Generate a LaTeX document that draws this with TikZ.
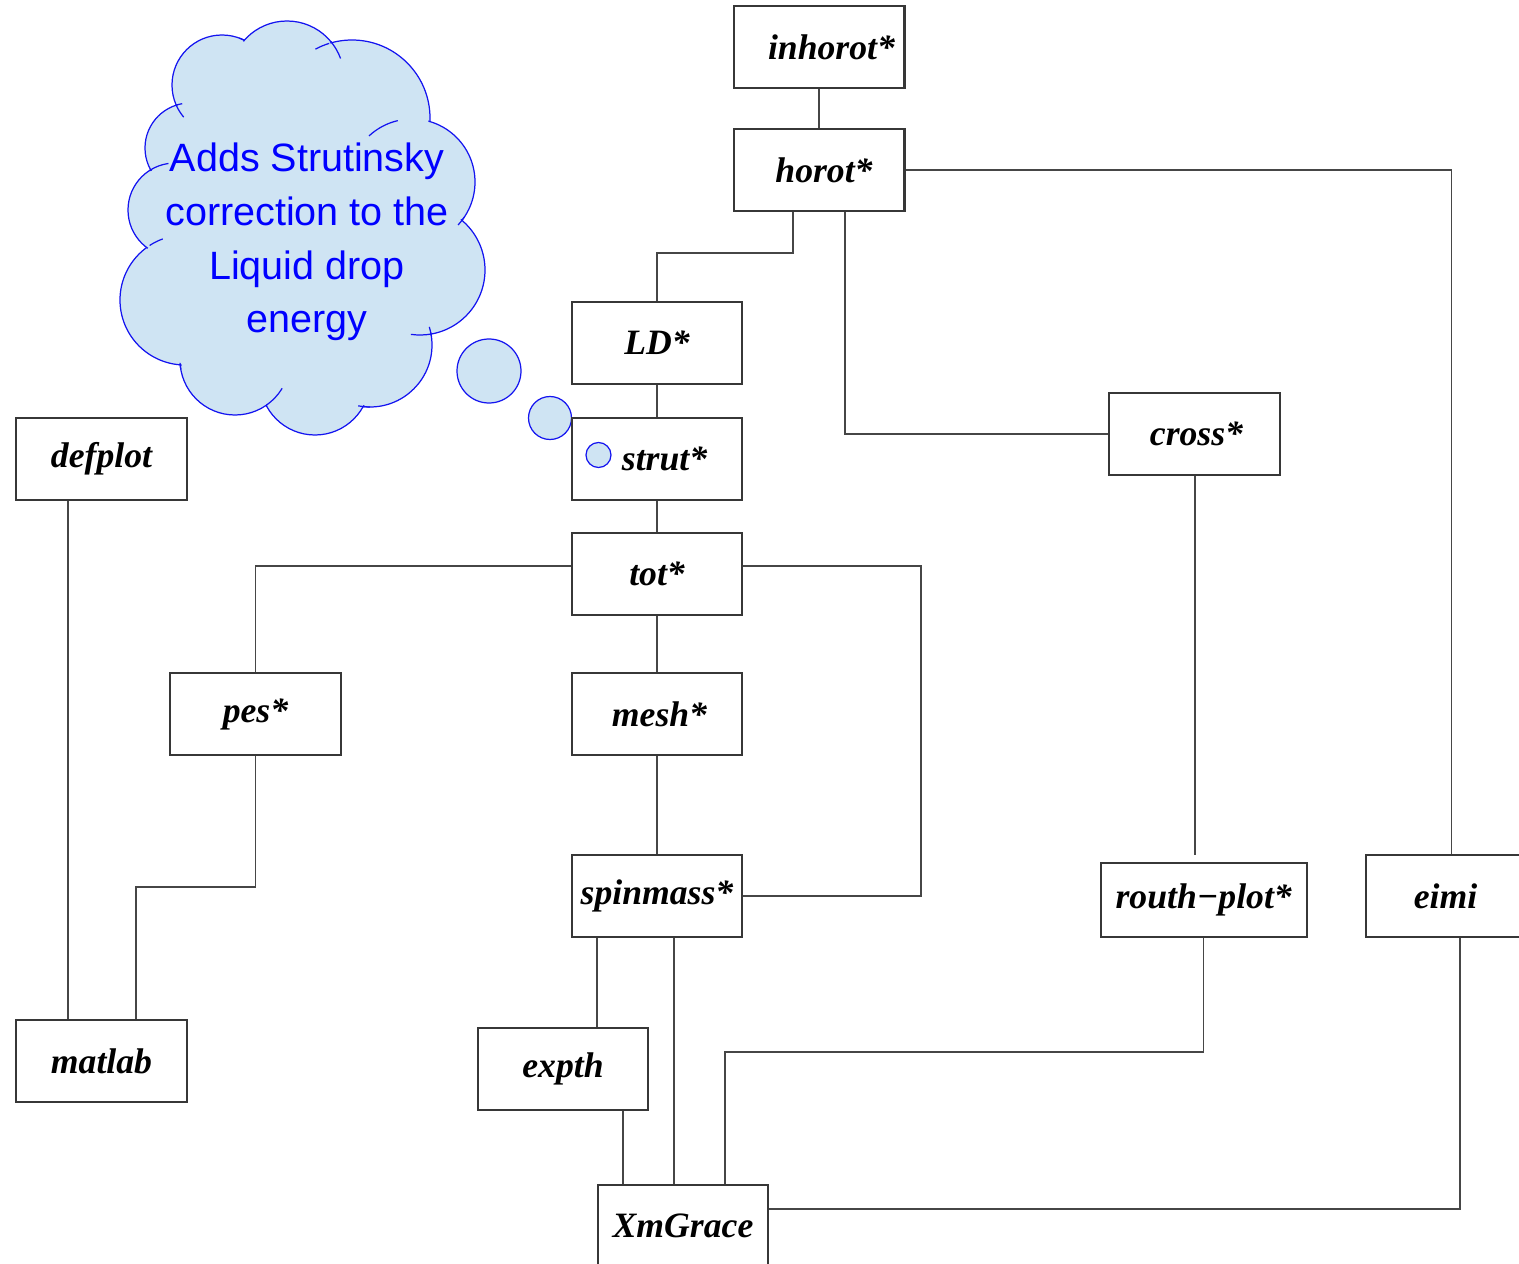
\documentclass[tikz,border=0pt]{standalone}
\usepackage{fontspec}
\setmainfont{Liberation Serif}
\newfontfamily\cloudfont{Liberation Sans}
\definecolor{cloudfill}{RGB}{207,228,243}
\definecolor{cloudline}{RGB}{20,20,240}
\definecolor{boxline}{RGB}{55,55,55}
\definecolor{wire}{RGB}{70,70,70}
\begin{document}
\begin{tikzpicture}[x=0.02cm,y=-0.02cm,
  box/.style={draw=boxline,line width=1.15pt,fill=white,minimum width=3.42cm,minimum height=1.64cm,inner sep=0pt,
    font=\fontsize{20.3}{24}\selectfont\bfseries\itshape},
  wirestyle/.style={draw=wire,line width=0.85pt},
  puff/.style={fill=cloudfill,draw=cloudline,line width=0.7pt},
  puffin/.style={fill=cloudfill},
  tail/.style={draw=cloudline,line width=0.7pt}]
\useasboundingbox (0,0) rectangle (1519,1264);
\clip (0,0) rectangle (1519,1264);

% cloud
\foreach \cx/\cy/\r in {222/85/50, 287/78/57, 352/118/78, 412/182/63, 420/270/65, 370/345/62, 315/380/55, 235/360/55, 185/300/65, 175/210/47, 190/148/45}
  {\path[puff] (\cx,\cy) circle[radius=\r];}
\foreach \cx/\cy/\r in {222/85/50, 287/78/57, 352/118/78, 412/182/63, 420/270/65, 370/345/62, 315/380/55, 235/360/55, 185/300/65, 175/210/47, 190/148/45}
  {\path[puffin] (\cx,\cy) circle[radius=\r-1.5];}
\path[puffin] (222,85) -- (287,78) -- (352,118) -- (412,182) -- (420,270) -- (370,345) -- (315,380) -- (235,360) -- (185,300) -- (175,210) -- (190,148) -- cycle;
% short inner ends of the puffs
\foreach \cx/\cy/\r/\aa/\ab in {287/78/57/-40/-20, 222/85/50/140/157, 412/182/63/-133/-103, 420/270/65/80/98,
   370/345/62/-17/-8, 370/345/62/90/101, 235/360/55/31/55, 235/360/55/170/177, 185/300/65/-123/-110,
   175/210/47/-123/-98, 190/148/45/-108/-100, 352/118/78/-118/-107, 412/182/63/34/43, 222/85/50/-70/-63}
  {\draw[tail] (\cx,\cy) ++(\aa:\r) arc[start angle=\aa, end angle=\ab, radius=\r];}
\node[text=blue,align=center,font=\cloudfont\fontsize{22.5}{30.6}\selectfont] (cloudtext) at (307,242)
  {Adds Strutinsky\\correction to the\\Liquid drop\\energy};
\path[puff] (489,371) circle[radius=32];
\path[puff] (550,418) circle[radius=21.5];

% boxes
\node[box] (inhorot) at (819,47) {\hspace*{0.5cm}inhorot*};
\node[box] (horot) at (819,170) {\hspace*{0.2cm}horot*};
\node[box] (LD) at (657,343) {LD*};
\node[box] (strut) at (657,459) {\hspace*{0.3cm}strut*};
\node[box] (defplot) at (101.5,459) {defplot};
\node[box] (tot) at (657,574) {tot*};
\node[box] (pes) at (255.5,714) {pes*};
\node[box] (mesh) at (657,714) {\hspace*{0.1cm}mesh*};
\node[box] (cross) at (1194.5,434) {\hspace*{0.08cm}cross*};
\node[box] (spinmass) at (657,896) {spinmass*};
\node[box,minimum width=4.12cm,minimum height=1.49cm] (routh) at (1203.7,900) {routh−plot*};
\node[box] (eimi) at (1451.5,896) {\hspace*{-0.24cm}eimi};
\node[box] (matlab) at (101.5,1061) {matlab};
\node[box] (expth) at (563,1069) {expth};
\node[box] (xm) at (683,1226) {XmGrace};

\path[puff] (598.5,455) circle[radius=12.5];

% connectors
\coordinate (c1) at (793,253);
\coordinate (c2) at (845,434);
\coordinate (c3) at (256,566);
\coordinate (c4) at (921,566);
\coordinate (c5) at (68,0);
\coordinate (c6) at (136,887);
\coordinate (c7) at (597,0);
\coordinate (c8) at (674,0);
\coordinate (c9) at (623,0);
\coordinate (c10) at (725,1052);
\coordinate (c11) at (1460,1209);
\coordinate (c12) at (1195,855);

\draw[wirestyle] (inhorot.south) -- (horot.north);
\draw[wirestyle] (horot.south -| c1) -- (c1) -| (LD.north);
\draw[wirestyle] (horot.south -| c2) |- (cross.west);
\draw[wirestyle] (horot.east) -| (eimi.north);
\draw[wirestyle] (LD.south) -- (strut.north);
\draw[wirestyle] (strut.south) -- (tot.north);
\draw[wirestyle] (tot.south) -- (mesh.north);
\draw[wirestyle] (mesh.south) -- (spinmass.north);
\draw[wirestyle] (tot.west |- c3) -| (pes.north);
\draw[wirestyle] (tot.east |- c4) -- (c4) |- (spinmass.east);
\draw[wirestyle] (defplot.south -| c5) -- (matlab.north -| c5);
\draw[wirestyle] (pes.south) |- (c6) -- (matlab.north -| c6);
\draw[wirestyle] (spinmass.south -| c7) -- (expth.north -| c7);
\draw[wirestyle] (spinmass.south -| c8) -- (xm.north -| c8);
\draw[wirestyle] (expth.south -| c9) -- (xm.north -| c9);
\draw[wirestyle] (routh.south) |- (c10) -- (xm.north -| c10);
\draw[wirestyle] (eimi.south -| c11) -- (c11) -- (xm.east |- c11);
\draw[wirestyle] (cross.south -| c12) -- (c12);
\end{tikzpicture}
\end{document}
